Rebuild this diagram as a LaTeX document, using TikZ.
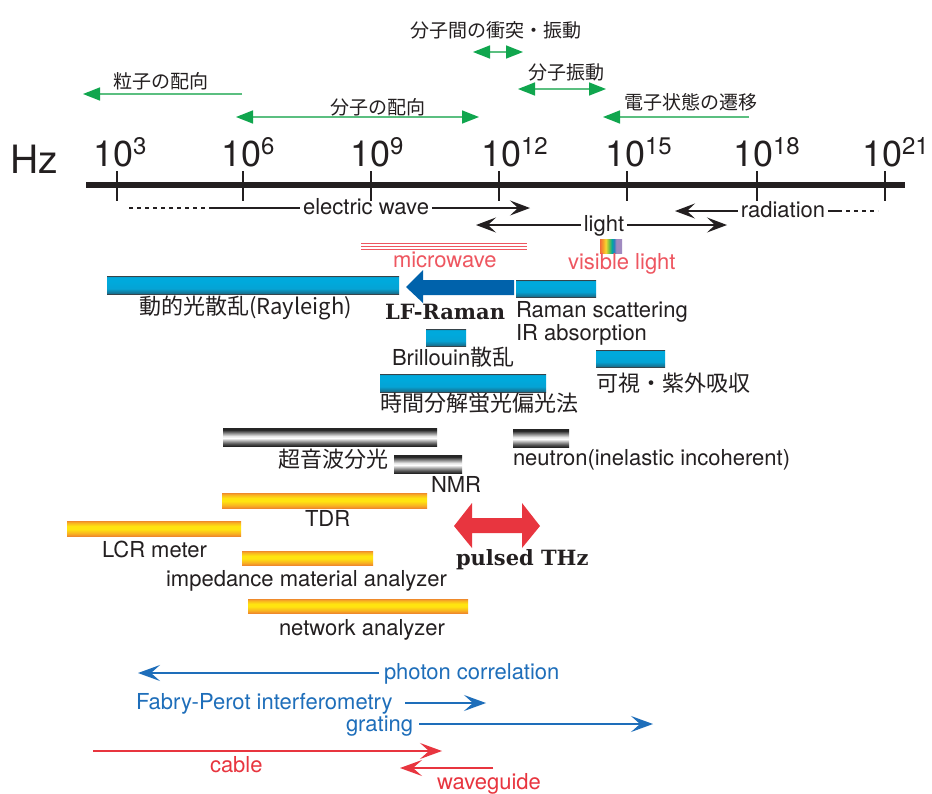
\documentclass[tikz,border=0pt]{standalone}
\usepackage{fontspec}
\setsansfont{TeX Gyre Heros}
\newfontfamily\jp{Noto Sans CJK JP}
\newfontfamily\serifb{DejaVu Serif}
\usetikzlibrary{arrows.meta}
\newcommand\fsz[1]{\fontsize{#1}{#1}\selectfont}
\definecolor{ink}{HTML}{231F20}
\definecolor{gline}{HTML}{5BBF80}
\definecolor{ghead}{HTML}{10A64E}
\definecolor{mwred}{HTML}{EE5660}
\definecolor{arred}{HTML}{E8353F}
\definecolor{bltext}{HTML}{1E6EBA}
\definecolor{lfblue}{HTML}{0062AB}
\definecolor{bA}{HTML}{36444B}
\definecolor{bB}{HTML}{17708F}
\definecolor{bC}{HTML}{05A3D4}
\definecolor{bD}{HTML}{00A9DC}
\definecolor{gA}{HTML}{252525}
\definecolor{gB}{HTML}{5A5A5A}
\definecolor{gC}{HTML}{FFFFFF}
\definecolor{gD}{HTML}{B0B0B0}
\definecolor{gE}{HTML}{E6E6E6}
\definecolor{gF}{HTML}{808080}
\definecolor{oA}{HTML}{EF8A2B}
\definecolor{oB}{HTML}{F8B022}
\definecolor{oC}{HTML}{FFE410}
\definecolor{rb1}{HTML}{F26B3A}
\definecolor{rb2}{HTML}{F7A12B}
\definecolor{rb3}{HTML}{F8D632}
\definecolor{rb4}{HTML}{7DC142}
\definecolor{rb5}{HTML}{00A99D}
\definecolor{rb6}{HTML}{2C7FC0}
\definecolor{rb7}{HTML}{A08AC0}
\pgfdeclareverticalshading{bluetube}{100bp}{color(0bp)=(bA); color(25bp)=(bA); color(27bp)=(bB); color(40bp)=(bC); color(60bp)=(bD); color(72bp)=(bD); color(75bp)=(bA); color(100bp)=(bA)}
\pgfdeclareverticalshading{graytube}{100bp}{color(0bp)=(gA); color(25bp)=(gA); color(32bp)=(gB); color(40bp)=(gD); color(47bp)=(gC); color(53bp)=(gE); color(62bp)=(gF); color(70bp)=(gA); color(75bp)=(gA); color(100bp)=(gA)}
\pgfdeclareverticalshading{orangetube}{100bp}{color(0bp)=(oA); color(25bp)=(oA); color(33bp)=(oB); color(48bp)=(oC); color(58bp)=(oC); color(70bp)=(oB); color(75bp)=(oA); color(100bp)=(oA)}
\pgfdeclarehorizontalshading{rainbow}{100bp}{color(0bp)=(rb1); color(25bp)=(rb1); color(32bp)=(rb2); color(38bp)=(rb3); color(45bp)=(rb4); color(52bp)=(rb5); color(57bp)=(rb6); color(62bp)=(rb7); color(75bp)=(rb7); color(100bp)=(rb7)}
\begin{document}
\begin{tikzpicture}[x=1pt,y=-1pt,font=\sffamily\fsz{22},
  txt/.style={inner sep=0pt,outer sep=0pt,anchor=base west,text=ink},
  ctxt/.style={inner sep=0pt,outer sep=3pt,anchor=base,text=ink},
  jtxt/.style={txt,font=\jp\fsz{22}},
  gtxt/.style={txt,font=\jp\fsz{19}},
  stxt/.style={txt,font=\serifb\bfseries\fsz{21}},
  tube/.style={inner sep=0pt,outer sep=0pt,anchor=north west,draw=none},
  bluebar/.style={tube,shading=bluetube},
  graybar/.style={tube,shading=graytube},
  orangebar/.style={tube,shading=orangetube},
  garrow/.style={draw=gline,line width=1.6pt,>={Triangle[length=17pt,width=13pt,color=ghead]}},
  barrow/.style={draw=ink,line width=1.4pt,>={Stealth[length=20pt,width=15pt,inset=8pt]}},
  carrow/.style={line width=1.3pt,>={Stealth[length=22pt,width=16pt,inset=9pt]}},
  tick/.style={draw=ink,line width=1.3pt}]
\useasboundingbox (0,0) rectangle (932,793);
\fill[white] (0,0) rectangle (932,793);

% ---------- green process arrows ----------
\node[gtxt] (t1) at (410,37) {分子間の衝突・振動};
\node[gtxt] (t2) at (113,88) {粒子の配向};
\node[gtxt] (t3) at (528,79) {分子振動};
\node[gtxt] (t4) at (330,114) {分子の配向};
\node[gtxt] (t5) at (624,109) {電子状態の遷移};
\coordinate (g1a) at (473,52);  \coordinate (g1b) at (523,52);
\coordinate (g2a) at (518,89);  \coordinate (g2b) at (606,89);
\coordinate (g3a) at (242,94);  \coordinate (g3b) at (83,94);
\coordinate (g4a) at (236,117); \coordinate (g4b) at (479,117);
\coordinate (g5a) at (749,117); \coordinate (g5b) at (603,117);
\draw[garrow,<->] (g1a) -- (g1b);
\draw[garrow,<->] (g2a) -- (g2b);
\draw[garrow,->] (g3a) -- (g3b);
\draw[garrow,<->] (g4a) -- (g4b);
\draw[garrow,->] (g5a) -- (g5b);

% ---------- axis ----------
\node[txt,font=\sffamily\fsz{39}] (hz) at (10,173) {Hz};
\node[txt,font=\sffamily\fsz{36}] (e3)  at (93,166)  {10\raisebox{12pt}{\fsz{24}3}};
\node[txt,font=\sffamily\fsz{36}] (e6)  at (221,166) {10\raisebox{12pt}{\fsz{24}6}};
\node[txt,font=\sffamily\fsz{36}] (e9)  at (350,166) {10\raisebox{12pt}{\fsz{24}9}};
\node[txt,font=\sffamily\fsz{36}] (e12) at (481,166) {10\raisebox{12pt}{\fsz{24}12}};
\node[txt,font=\sffamily\fsz{36}] (e15) at (605,166) {10\raisebox{12pt}{\fsz{24}15}};
\node[txt,font=\sffamily\fsz{36}] (e18) at (733,166) {10\raisebox{12pt}{\fsz{24}18}};
\node[txt,font=\sffamily\fsz{36}] (e21) at (862,166) {10\raisebox{12pt}{\fsz{24}21}};
\coordinate (axL) at (86,185); \coordinate (axR) at (905,185);
\draw[ink,line width=5.5pt] (axL) -- (axR);
\foreach \x in {117,243,371,499,627,757,885}
  \draw[tick] (\x,171) -- (\x,201);

% ---------- wave ranges ----------
\node[ctxt] (ew) at (366,214) {electric wave};
\coordinate (ew0) at (129,208); \coordinate (ew1) at (213,208); \coordinate (ew2) at (530,208);
\draw[ink,line width=1.3pt,dash pattern=on 4pt off 4pt] (ew0) -- (ew1);
\draw[ink,line width=1.3pt] (ew1) -- (ew.west |- ew1);
\draw[barrow,->] (ew.east |- ew2) -- (ew2);

\node[ctxt] (lt) at (604,231) {light};
\coordinate (lt0) at (476,225); \coordinate (lt1) at (727,225);
\draw[barrow,->] (lt.west |- lt0) -- (lt0);
\draw[barrow,->] (lt.east |- lt1) -- (lt1);

\node[ctxt] (rad) at (783,217) {radiation};
\coordinate (rd0) at (675,211); \coordinate (rd1) at (838,211); \coordinate (rd2) at (878,211);
\draw[barrow,->] (rad.west |- rd0) -- (rd0);
\draw[ink,line width=1.3pt] (rad.east |- rd1) -- (rd1);
\draw[ink,line width=1.3pt,dash pattern=on 4pt off 4pt] (rd1) -- (rd2);

% ---------- microwave / visible ----------
\coordinate (mwL) at (361,243); \coordinate (mwR) at (527,243);
\foreach \d in {0,3,6}
  \draw[mwred,line width=1pt] ([yshift=-\d pt]mwL) -- ([yshift=-\d pt]mwR);
\node[txt,text=mwred] (mw) at (393,267) {microwave};
\node[tube,shading=rainbow,minimum width=22pt,minimum height=14pt] (rbw) at (600,239) {};
\node[txt,text=mwred] (vis) at (568,269) {visible light};

% ---------- blue bars ----------
\node[bluebar,minimum width=292pt,minimum height=18pt] (dls) at (107,276) {};
\node[jtxt] (dlsT) at (139,314) {動的光散乱(Rayleigh)};
\fill[lfblue] (406,287) -- (423,270) -- (423,280) -- (514,280) -- (514,295) -- (423,295) -- (423,303) -- cycle;
\node[stxt] (lf) at (385,319) {LF-Raman};
\node[bluebar,minimum width=80pt,minimum height=17pt] (ram) at (516,280) {};
\node[txt] (ramT) at (516,317) {Raman scattering};
\node[txt] (irT) at (516,340) {IR absorption};
\node[bluebar,minimum width=40pt,minimum height=17pt] (bri) at (426,329) {};
\node[txt] (briT) at (392,365) {Brillouin{\jp 散乱}};
\node[bluebar,minimum width=69pt,minimum height=17pt] (uv) at (596,350) {};
\node[jtxt] (uvT) at (596,391) {可視・紫外吸収};
\node[bluebar,minimum width=166pt,minimum height=18pt] (trf) at (380,374) {};
\node[jtxt] (trfT) at (380,411) {時間分解蛍光偏光法};

% ---------- gray bars ----------
\node[graybar,minimum width=214pt,minimum height=18pt] (usp) at (223,428) {};
\node[jtxt] (uspT) at (278,467) {超音波分光};
\node[graybar,minimum width=68pt,minimum height=18pt] (nmr) at (394,455) {};
\node[txt] (nmrT) at (431,492) {NMR};
\node[graybar,minimum width=56pt,minimum height=18pt] (neu) at (513,429) {};
\node[txt] (neuT) at (513,465) {neutron(inelastic incoherent)};

% ---------- orange bars ----------
\node[orangebar,minimum width=205pt,minimum height=15pt] (tdr) at (222,493) {};
\node[txt] (tdrT) at (305,526) {TDR};
\node[orangebar,minimum width=174pt,minimum height=15pt] (lcr) at (67,521) {};
\node[txt] (lcrT) at (102,557) {LCR meter};
\node[orangebar,minimum width=131pt,minimum height=14pt] (imp) at (242,551) {};
\node[txt] (impT) at (166,586) {impedance material analyzer};
\node[orangebar,minimum width=220pt,minimum height=14pt] (net) at (248,599) {};
\node[txt] (netT) at (279,635) {network analyzer};

% ---------- pulsed THz ----------
\fill[arred] (454,526) -- (472,503) -- (472,518) -- (522,518) -- (522,503) -- (540,526)
  -- (522,548) -- (522,533) -- (472,533) -- (472,548) -- cycle;
\node[stxt] (thz) at (456,565) {pulsed THz};

% ---------- bottom methods ----------
\node[txt,text=bltext] (pc) at (384,679) {photon correlation};
\coordinate (pc1) at (379,673); \coordinate (pc2) at (138,673);
\draw[carrow,bltext,->] (pc1) -- (pc2);
\node[txt,text=bltext] (fp) at (136,709) {Fabry-Perot interferometry};
\coordinate (fp1) at (405,703); \coordinate (fp2) at (486,703);
\draw[carrow,bltext,->] (fp1) -- (fp2);
\node[txt,text=bltext] (gr) at (346,731) {grating};
\coordinate (gr1) at (419,724); \coordinate (gr2) at (653,724);
\draw[carrow,bltext,->] (gr1) -- (gr2);
\coordinate (cb1) at (93,751); \coordinate (cb2) at (442,751);
\draw[carrow,arred,->] (cb1) -- (cb2);
\node[txt,text=arred] (cb) at (210,772) {cable};
\coordinate (wg1) at (493,768); \coordinate (wg2) at (400,768);
\draw[carrow,arred,->] (wg1) -- (wg2);
\node[txt,text=arred] (wg) at (437,789) {waveguide};
\end{tikzpicture}
\end{document}
